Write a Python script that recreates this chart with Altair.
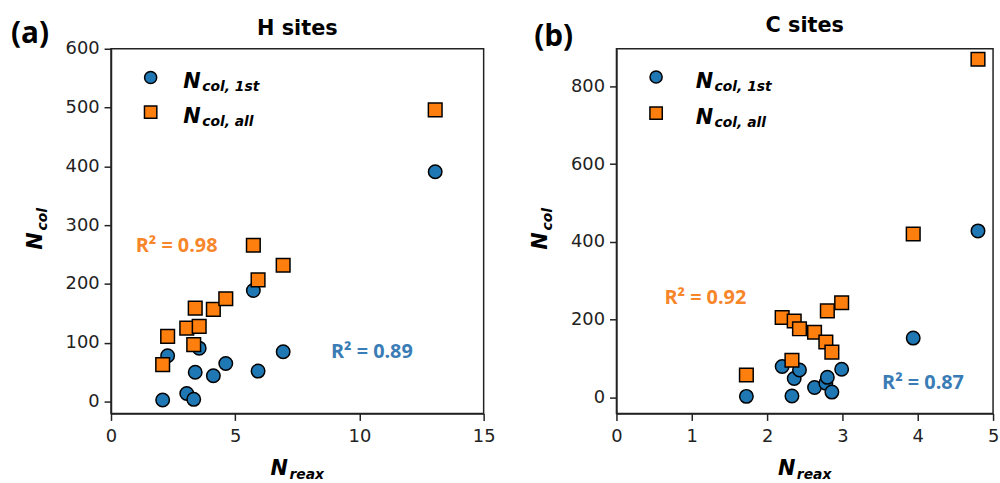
import altair as alt
import pandas as pd

# ---------------- data ----------------
# Panel (a): H sites
h_reax = [2.08, 2.28, 3.05, 3.33, 3.39, 3.55, 4.12, 4.62, 5.73, 5.92, 6.93, 13.05]
h_col_1st = [3, 78, 14, 4, 50, 91, 44, 65, 189, 52, 85, 391]
h_col_all = [63, 111, 125, 97, 159, 128, 157, 175, 266, 207, 232, 496]

# Panel (b): C sites
c_reax = [1.725, 2.20, 2.33, 2.36, 2.43, 2.63, 2.78, 2.80, 2.86, 2.99, 3.94, 4.80]
c_col_1st = [2, 79, 3, 48, 70, 25, 36, 51, 13, 72, 152, 428]
c_col_all = [57, 205, 95, 196, 176, 167, 142, 222, 116, 243, 420, 870]

series_names = ["1st", "all"]
legend_subs = ["col, 1st", "col, all"]

# R² annotations
h_r2_x = [2.64, 10.5]
h_r2_y = [264, 85]
h_r2_lab = ["R² = 0.98", "R² = 0.89"]
c_r2_x = [1.18, 4.07]
c_r2_y = [254, 37]
c_r2_lab = ["R² = 0.92", "R² = 0.87"]
r2_series = ["all", "1st"]

BLUE = "#1f77b4"
ORANGE = "#ff7f0e"
TXT_BLUE = "#3a7cb5"
TXT_ORANGE = "#f7862a"
DARK = "#222222"
FONT = "DejaVu Sans"
LAB_FONT = "Open Sans"


def panel(reax, c1, call, r2x, r2y, r2lab, xdom, ydom, xticks, yticks,
          title, tag, W, H, p):
    n = len(reax)
    df = pd.DataFrame({
        "reax": reax + reax,
        "ncol": c1 + call,
        "series": [series_names[0]] * n + [series_names[1]] * n,
    })
    x = alt.X("reax:Q",
              scale=alt.Scale(domain=xdom, nice=False, zero=False),
              axis=alt.Axis(values=xticks, title=None, format="d",
                            labelFlush=False, labelOverlap=False,
                            labelPadding=7))
    y = alt.Y("ncol:Q",
              scale=alt.Scale(domain=ydom, nice=False, zero=False),
              axis=alt.Axis(values=yticks, title=None, format="d",
                            labelOverlap=False, labelPadding=5))
    pts = alt.Chart(df).mark_point(filled=True, stroke="black",
                                   strokeWidth=1.5, opacity=1).encode(
        x=x, y=y,
        shape=alt.Shape("series:N",
                        scale=alt.Scale(domain=series_names,
                                        range=["circle", "square"]),
                        legend=None),
        fill=alt.Fill("series:N",
                      scale=alt.Scale(domain=series_names,
                                      range=[BLUE, ORANGE]),
                      legend=None),
        size=alt.Size("series:N",
                      scale=alt.Scale(domain=series_names, range=[185, 190]),
                      legend=None),
    )

    r2df = pd.DataFrame({"reax": r2x, "ncol": r2y, "label": r2lab,
                         "series": r2_series})
    r2 = alt.Chart(r2df).mark_text(font=LAB_FONT, fontSize=20,
                                   fontWeight="bold", align="center",
                                   baseline="middle").encode(
        x="reax:Q", y="ncol:Q", text="label:N",
        color=alt.Color("series:N",
                        scale=alt.Scale(domain=series_names,
                                        range=[TXT_BLUE, TXT_ORANGE]),
                        legend=None),
    )

    one = pd.DataFrame({"k": [0]})
    base = alt.Chart(one)
    layers = [pts, r2]

    # custom legend
    layers.append(base.mark_point(shape="circle", filled=True, fill=BLUE,
                                  stroke="black", strokeWidth=1.5, size=150,
                                  opacity=1).encode(
        x=alt.value(40), y=alt.value(p["ly1"])))
    layers.append(base.mark_point(shape="square", filled=True, fill=ORANGE,
                                  stroke="black", strokeWidth=1.5, size=155,
                                  opacity=1).encode(
        x=alt.value(40), y=alt.value(p["ly2"])))
    for i, ly in enumerate([p["ly1"], p["ly2"]]):
        layers.append(base.mark_text(text="N", font=FONT, fontSize=21,
                                     fontStyle="italic", fontWeight="bold",
                                     align="left", baseline="alphabetic",
                                     color="black").encode(
            x=alt.value(p["nx"]), y=alt.value(ly + 11)))
        layers.append(base.mark_text(text=legend_subs[i], font=FONT,
                                     fontSize=14, fontStyle="italic",
                                     fontWeight="bold", align="left",
                                     baseline="alphabetic",
                                     color="black").encode(
            x=alt.value(p["nx"] + 19), y=alt.value(ly + 14)))

    # panel title
    layers.append(base.mark_text(text=title, font=FONT, fontSize=21,
                                 fontWeight="bold", align="center",
                                 baseline="alphabetic", color="black").encode(
        x=alt.value(W / 2), y=alt.value(p["ty"])))
    # panel tag
    layers.append(base.mark_text(text=tag, font=LAB_FONT, fontSize=30,
                                 fontWeight="bold", align="left",
                                 baseline="alphabetic", color="black").encode(
        x=alt.value(p["tagx"]), y=alt.value(p["tagy"])))

    # x axis title N_reax
    layers.append(base.mark_text(text="N", font=FONT, fontSize=21,
                                 fontStyle="italic", fontWeight="bold",
                                 align="left", baseline="alphabetic",
                                 color="black").encode(
        x=alt.value(W / 2 - 27), y=alt.value(H + 62)))
    layers.append(base.mark_text(text="reax", font=FONT, fontSize=14,
                                 fontStyle="italic", fontWeight="bold",
                                 align="left", baseline="alphabetic",
                                 color="black").encode(
        x=alt.value(W / 2 - 8), y=alt.value(H + 66)))
    # y axis title N_col (rotated)
    layers.append(base.mark_text(text="N", font=FONT, fontSize=21,
                                 fontStyle="italic", fontWeight="bold",
                                 align="center", baseline="alphabetic",
                                 angle=270, color="black").encode(
        x=alt.value(-70), y=alt.value(H / 2 + 10)))
    layers.append(base.mark_text(text="col", font=FONT, fontSize=14,
                                 fontStyle="italic", fontWeight="bold",
                                 align="center", baseline="alphabetic",
                                 angle=270, color="black").encode(
        x=alt.value(-65), y=alt.value(H / 2 - 12)))

    return alt.layer(*layers).properties(width=W, height=H)


left = panel(h_reax, h_col_1st, h_col_all, h_r2_x, h_r2_y, h_r2_lab,
             [0, 15], [-20, 600], [0, 5, 10, 15],
             [0, 100, 200, 300, 400, 500, 600],
             "H sites", "(a)", 376, 368,
             {"ly1": 29, "ly2": 64, "nx": 73, "tagx": -101, "tagy": -6,
              "ty": -13.5})
right = panel(c_reax, c_col_1st, c_col_all, c_r2_x, c_r2_y, c_r2_lab,
              [0, 5], [-42, 897], [0, 1, 2, 3, 4, 5],
              [0, 200, 400, 600, 800],
              "C sites", "(b)", 380, 368,
              {"ly1": 28.5, "ly2": 65, "nx": 80, "tagx": -83, "tagy": -3,
               "ty": -17})

chart = alt.hconcat(left, right, spacing=33).properties(
    padding={"left": 10, "top": 12, "right": 0, "bottom": 0}
).configure_view(
    stroke=DARK, strokeWidth=1.5
).configure_axis(
    domainColor=DARK, domainWidth=1.5, tickColor=DARK, tickWidth=1.5,
    tickSize=7, labelFont=FONT, labelFontSize=18, labelColor=DARK,
    grid=False
)

chart.save("out.html", embed_options={"renderer": "svg", "actions": False})
